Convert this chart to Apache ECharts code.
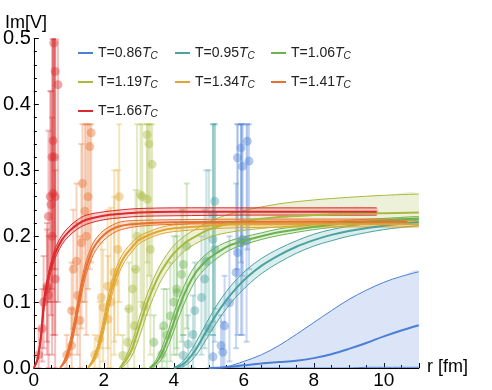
<!DOCTYPE html>
<html>
<head>
<meta charset="utf-8">
<script src="https://cdn.jsdelivr.net/npm/echarts@6/dist/echarts.min.js"></script>
<style>
  html, body { margin: 0; padding: 0; background: #fff; }
  #chart { width: 492px; height: 390px; }
</style>
</head>
<body>
<div id="chart"></div>
<script>
// Imaginary part of the heavy-quark potential, Im[V](r), at several temperatures.

const temperatures = ['0.86', '0.95', '1.06', '1.19', '1.34', '1.41', '1.66'];
const colors = ['#4a7fd6', '#4aa3a0', '#6cb24f', '#a9b93f', '#e2a52f', '#e8702f', '#dc2a2d'];

// Lattice points: [r (fm), Im V, lower end of error bar, upper end of error bar]
const points086 = [
  [5.12, 0.017, 0.0, 0.05], [5.35, 0.034, 0.0, 0.08], [5.40, 0.024, 0.0, 0.07],
  [5.45, 0.064, 0.0, 0.14], [5.59, 0.099, 0.01, 0.20], [5.78, 0.145, 0.03, 0.28],
  [5.82, 0.175, 0.05, 0.37], [5.92, 0.190, 0.05, 0.37], [5.96, 0.195, 0.05, 0.37],
  [5.82, 0.319, 0.15, 0.37], [5.92, 0.334, 0.16, 0.37], [5.96, 0.306, 0.14, 0.37],
  [6.10, 0.344, 0.18, 0.37], [6.15, 0.314, 0.15, 0.37], [6.08, 0.193, 0.04, 0.37]
];
const points095 = [
  [4.27, 0.019, 0.0, 0.05], [4.41, 0.036, 0.0, 0.08], [4.55, 0.051, 0.0, 0.11],
  [4.60, 0.087, 0.02, 0.16], [4.79, 0.107, 0.02, 0.20], [4.88, 0.135, 0.03, 0.24],
  [4.93, 0.162, 0.05, 0.30], [5.12, 0.195, 0.05, 0.37], [5.12, 0.233, 0.07, 0.37],
  [5.17, 0.180, 0.04, 0.37], [5.17, 0.253, 0.09, 0.37], [5.00, 0.060, 0.0, 0.30]
];
const points106 = [
  [3.43, 0.039, 0.0, 0.08], [3.66, 0.021, 0.0, 0.06], [3.71, 0.064, 0.01, 0.12],
  [3.80, 0.050, 0.0, 0.12], [3.90, 0.079, 0.01, 0.16], [4.00, 0.100, 0.02, 0.20],
  [4.08, 0.120, 0.03, 0.22], [4.09, 0.114, 0.02, 0.20], [4.22, 0.142, 0.04, 0.24],
  [4.27, 0.157, 0.05, 0.24], [4.37, 0.185, 0.06, 0.28]
];
const points119 = [
  [2.54, 0.019, 0.0, 0.05], [2.68, 0.039, 0.0, 0.09], [2.72, 0.090, 0.02, 0.16],
  [2.82, 0.120, 0.03, 0.22], [2.87, 0.064, 0.0, 0.15], [2.91, 0.150, 0.04, 0.27],
  [2.95, 0.200, 0.06, 0.37], [3.05, 0.263, 0.10, 0.37], [3.10, 0.260, 0.08, 0.37],
  [3.15, 0.094, 0.0, 0.22], [3.24, 0.256, 0.08, 0.37], [3.24, 0.354, 0.16, 0.37],
  [3.29, 0.340, 0.14, 0.37], [3.33, 0.180, 0.02, 0.37], [3.38, 0.309, 0.12, 0.37]
];
const points134 = [
  [1.74, 0.020, 0.0, 0.05], [1.88, 0.044, 0.0, 0.10], [1.93, 0.107, 0.03, 0.19],
  [1.98, 0.092, 0.01, 0.18], [2.11, 0.124, 0.03, 0.24], [2.12, 0.074, 0.0, 0.17],
  [2.20, 0.100, 0.0, 0.243], [2.30, 0.130, 0.02, 0.26], [2.30, 0.145, 0.04, 0.30],
  [2.40, 0.180, 0.05, 0.30], [2.44, 0.260, 0.10, 0.37]
];
const points141 = [
  [0.94, 0.020, 0.0, 0.05], [1.08, 0.034, 0.0, 0.09], [1.08, 0.087, 0.02, 0.16],
  [1.13, 0.150, 0.06, 0.24], [1.22, 0.162, 0.05, 0.28], [1.25, 0.110, 0.02, 0.22],
  [1.32, 0.072, 0.0, 0.20], [1.36, 0.190, 0.06, 0.34], [1.39, 0.280, 0.10, 0.37],
  [1.46, 0.238, 0.10, 0.37], [1.50, 0.200, 0.05, 0.37], [1.55, 0.260, 0.12, 0.37],
  [1.60, 0.336, 0.15, 0.37], [1.64, 0.357, 0.16, 0.37]
];
const points166 = [
  [0.14, 0.020, 0.0, 0.06], [0.24, 0.060, 0.01, 0.12], [0.28, 0.100, 0.03, 0.17],
  [0.38, 0.120, 0.02, 0.22], [0.38, 0.124, 0.04, 0.21], [0.42, 0.110, 0.0, 0.20],
  [0.42, 0.230, 0.10, 0.36], [0.47, 0.260, 0.10, 0.42], [0.49, 0.248, 0.08, 0.42],
  [0.52, 0.200, 0.02, 0.38], [0.52, 0.320, 0.12, 0.50], [0.55, 0.345, 0.15, 0.50],
  [0.55, 0.265, 0.05, 0.50], [0.57, 0.493, 0.20, 0.60], [0.59, 0.320, 0.10, 0.55],
  [0.61, 0.450, 0.15, 0.60], [0.61, 0.260, 0.05, 0.50], [0.61, 0.135, 0.0, 0.30],
  [0.69, 0.430, 0.10, 0.60]
];

// Fitted curves: r grid, central value, lower and upper edge of the uncertainty band
const r086 = [5.0, 5.5, 6.0, 6.5, 7.0, 7.5, 8.0, 8.5, 9.0, 9.5, 10.0, 10.5, 11.0];
const mid086 = [0, 0.001, 0.004, 0.007, 0.009, 0.011, 0.015, 0.021, 0.029, 0.038, 0.048, 0.057, 0.065];
const lo086 = [0, 0, 0, 0, 0, 0, 0, 0, 0, 0.001, 0.001, 0.001, 0.001];
const hi086 = [0, 0.002, 0.010, 0.020, 0.034, 0.051, 0.069, 0.087, 0.104, 0.118, 0.130, 0.139, 0.146];

const r095 = [4.0, 4.3, 4.6, 4.9, 5.2, 5.5, 5.8, 6.1, 6.5, 7.0, 7.5, 8.0, 8.5, 9.0, 10.0, 11.0];
const mid095 = [0, 0.007, 0.026, 0.053, 0.080, 0.103, 0.122, 0.138, 0.155, 0.171, 0.184, 0.194, 0.202, 0.208, 0.216, 0.221];
const lo095 = [0, 0.003, 0.017, 0.041, 0.067, 0.090, 0.109, 0.125, 0.143, 0.160, 0.174, 0.185, 0.193, 0.200, 0.210, 0.216];
const hi095 = [0, 0.012, 0.036, 0.065, 0.093, 0.116, 0.135, 0.150, 0.166, 0.181, 0.193, 0.203, 0.210, 0.215, 0.222, 0.226];

const r106 = [3.3, 3.5, 3.7, 3.9, 4.1, 4.3, 4.5, 4.7, 5.0, 5.3, 5.6, 6.0, 6.5, 7.0, 8.0, 9.0, 10.0, 11.0];
const mid106 = [0, 0.008, 0.027, 0.054, 0.085, 0.112, 0.134, 0.150, 0.166, 0.177, 0.186, 0.193, 0.200, 0.206, 0.214, 0.220, 0.224, 0.227];
const lo106 = [0, 0.004, 0.018, 0.042, 0.071, 0.098, 0.121, 0.139, 0.156, 0.169, 0.179, 0.187, 0.195, 0.201, 0.210, 0.216, 0.221, 0.224];
const hi106 = [0, 0.013, 0.036, 0.066, 0.098, 0.125, 0.146, 0.161, 0.176, 0.186, 0.193, 0.199, 0.205, 0.211, 0.218, 0.224, 0.227, 0.230];

const r119 = [2.45, 2.6, 2.8, 3.0, 3.2, 3.4, 3.6, 3.8, 4.0, 4.3, 4.6, 5.0, 5.5, 6.0, 7.0, 8.0, 9.0, 10.0, 11.0];
const mid119 = [0, 0.009, 0.028, 0.060, 0.093, 0.120, 0.143, 0.160, 0.174, 0.189, 0.199, 0.210, 0.218, 0.223, 0.229, 0.232, 0.234, 0.235, 0.236];
const lo119 = [0, 0.004, 0.018, 0.045, 0.077, 0.105, 0.129, 0.147, 0.161, 0.177, 0.188, 0.198, 0.205, 0.209, 0.214, 0.217, 0.219, 0.220, 0.221];
const hi119 = [0, 0.014, 0.038, 0.073, 0.106, 0.133, 0.155, 0.172, 0.186, 0.200, 0.210, 0.222, 0.232, 0.239, 0.249, 0.255, 0.259, 0.262, 0.264];

const r134 = [1.55, 1.7, 1.8, 1.9, 2.0, 2.1, 2.2, 2.3, 2.45, 2.6, 2.8, 3.0, 3.3, 3.6, 4.0, 5.0, 6.0, 8.0, 11.0];
const mid134 = [0, 0.012, 0.025, 0.043, 0.066, 0.092, 0.114, 0.134, 0.155, 0.170, 0.183, 0.194, 0.202, 0.208, 0.212, 0.216, 0.218, 0.218, 0.218];
const lo134 = [0, 0.008, 0.019, 0.035, 0.056, 0.081, 0.103, 0.124, 0.146, 0.162, 0.176, 0.188, 0.197, 0.203, 0.207, 0.211, 0.213, 0.214, 0.214];
const hi134 = [0, 0.016, 0.031, 0.051, 0.076, 0.103, 0.125, 0.144, 0.164, 0.178, 0.190, 0.200, 0.207, 0.213, 0.217, 0.221, 0.222, 0.223, 0.223];

const r141 = [0.75, 0.9, 1.0, 1.1, 1.2, 1.3, 1.4, 1.5, 1.65, 1.8, 2.0, 2.25, 2.5, 3.0, 4.0, 6.0, 8.0, 10.66];
const mid141 = [0, 0.012, 0.027, 0.048, 0.075, 0.104, 0.132, 0.153, 0.176, 0.190, 0.202, 0.211, 0.216, 0.219, 0.221, 0.222, 0.222, 0.222];
const lo141 = [0, 0.008, 0.020, 0.040, 0.066, 0.094, 0.121, 0.143, 0.166, 0.181, 0.194, 0.204, 0.210, 0.215, 0.218, 0.219, 0.219, 0.219];
const hi141 = [0, 0.016, 0.034, 0.057, 0.085, 0.114, 0.142, 0.163, 0.185, 0.198, 0.209, 0.217, 0.222, 0.224, 0.225, 0.226, 0.226, 0.226];

const r166 = [0, 0.1, 0.2, 0.3, 0.4, 0.5, 0.6, 0.8, 1.0, 1.25, 1.5, 2.0, 2.5, 3.0, 4.0, 6.0, 8.0, 9.8];
const mid166 = [0, 0.012, 0.045, 0.105, 0.135, 0.157, 0.173, 0.194, 0.207, 0.218, 0.225, 0.231, 0.234, 0.236, 0.237, 0.237, 0.237, 0.237];
const lo166 = [0, 0.010, 0.042, 0.092, 0.124, 0.148, 0.165, 0.187, 0.200, 0.211, 0.218, 0.225, 0.228, 0.230, 0.231, 0.232, 0.232, 0.232];
const hi166 = [0, 0.014, 0.052, 0.106, 0.138, 0.162, 0.180, 0.201, 0.214, 0.225, 0.232, 0.237, 0.240, 0.242, 0.243, 0.243, 0.243, 0.243];

const FONT = '"Liberation Sans", Arial, Helvetica, sans-serif';

const sets = [
  { t: temperatures[0], color: colors[0], pts: points086, r: r086, mid: mid086, lo: lo086, hi: hi086 },
  { t: temperatures[1], color: colors[1], pts: points095, r: r095, mid: mid095, lo: lo095, hi: hi095 },
  { t: temperatures[2], color: colors[2], pts: points106, r: r106, mid: mid106, lo: lo106, hi: hi106 },
  { t: temperatures[3], color: colors[3], pts: points119, r: r119, mid: mid119, lo: lo119, hi: hi119 },
  { t: temperatures[4], color: colors[4], pts: points134, r: r134, mid: mid134, lo: lo134, hi: hi134 },
  { t: temperatures[5], color: colors[5], pts: points141, r: r141, mid: mid141, lo: lo141, hi: hi141 },
  { t: temperatures[6], color: colors[6], pts: points166, r: r166, mid: mid166, lo: lo166, hi: hi166 }
];

// Error-bar glyph: vertical bar with caps and a filled dot, all pale and translucent
function errorBar(color) {
  return function (params, api) {
    const c = api.coord([api.value(0), api.value(1)]);
    const a = api.coord([api.value(0), api.value(2)]);
    const b = api.coord([api.value(0), api.value(3)]);
    const st = { stroke: color, lineWidth: 2, opacity: 0.3 };
    return {
      type: 'group',
      children: [
        { type: 'line', shape: { x1: c[0], y1: a[1], x2: c[0], y2: b[1] }, style: st },
        { type: 'line', shape: { x1: c[0] - 3, y1: a[1], x2: c[0] + 3, y2: a[1] }, style: st },
        { type: 'line', shape: { x1: c[0] - 3, y1: b[1], x2: c[0] + 3, y2: b[1] }, style: st },
        { type: 'circle', shape: { cx: c[0], cy: c[1], r: 4.5 }, style: { fill: color, opacity: 0.42 } }
      ]
    };
  };
}

// Uncertainty band: translucent fill between the lower and upper curve, thin edges
function band(s) {
  return function (params, api) {
    if (params.dataIndex !== 0) return null;
    const lower = s.r.map((r, i) => api.coord([r, s.lo[i]]));
    const upper = s.r.map((r, i) => api.coord([r, s.hi[i]]));
    const outline = lower.concat(upper.slice().reverse());
    return {
      type: 'group',
      children: [
        { type: 'polygon', shape: { points: outline, smooth: 0.35 }, style: { fill: s.color, opacity: 0.2 } },
        { type: 'polyline', shape: { points: lower, smooth: 0.35 }, style: { stroke: s.color, lineWidth: 1, fill: null } },
        { type: 'polyline', shape: { points: upper, smooth: 0.35 }, style: { stroke: s.color, lineWidth: 1, fill: null } }
      ]
    };
  };
}

const seriesName = t => 'T=' + t + 'Tc';
const series = [];

sets.forEach(s => {
  series.push({
    type: 'custom', name: 'pts' + s.t, data: s.pts,
    renderItem: errorBar(s.color), clip: true, silent: true, z: 1
  });
});

sets.forEach(s => {
  series.push({
    type: 'custom', name: 'band' + s.t,
    data: s.r.map((r, i) => [r, s.lo[i], s.hi[i]]),
    encode: { x: 0, y: [1, 2] },
    renderItem: band(s), clip: true, silent: true, z: 2
  });
});

sets.forEach(s => {
  series.push({
    type: 'line', name: seriesName(s.t), smooth: 0.35, symbol: 'none', silent: true,
    data: s.r.map((r, i) => [r, s.mid[i]]),
    lineStyle: { width: 2, color: s.color },
    itemStyle: { color: s.color },
    z: 3
  });
});

// Legend: three columns, one legend block per entry
const legendCols = [73, 170, 266];
const legendRows = [50, 79, 108];
const legends = sets.map((s, i) => ({
  data: [seriesName(s.t)],
  left: legendCols[i % 3],
  top: legendRows[Math.floor(i / 3)] - 9,
  icon: 'rect',
  itemWidth: 15,
  itemHeight: 2,
  itemGap: 0,
  selectedMode: false,
  formatter: () => 'T=' + s.t + '{i|T}{s|C}',
  textStyle: {
    fontFamily: FONT, fontSize: 14, color: '#222',
    rich: {
      i: { fontFamily: FONT, fontSize: 14, fontStyle: 'italic', color: '#222' },
      s: { fontFamily: FONT, fontSize: 10, fontStyle: 'italic', color: '#222', padding: [7, 0, 0, 0] }
    }
  }
}));

const chart = echarts.init(document.getElementById('chart'), null, { renderer: 'canvas' });
chart.setOption({
  animation: false,
  backgroundColor: '#fff',
  grid: { left: 28.3, right: 73.2, top: 38.5, bottom: 21, containLabel: false },
  legend: legends,
  xAxis: {
    type: 'value', min: 0, max: 11, interval: 2,
    axisLine: { show: true, lineStyle: { color: '#000', width: 1 } },
    axisTick: { show: true, inside: true, length: 5, lineStyle: { color: '#000' } },
    minorTick: { show: true, splitNumber: 4, length: 3, lineStyle: { color: '#000' } },
    splitLine: { show: false },
    axisLabel: { showMaxLabel: false, margin: 3, fontFamily: FONT, fontSize: 19, color: '#000' }
  },
  yAxis: {
    type: 'value', min: 0, max: 0.5, interval: 0.1,
    axisLine: { show: true, lineStyle: { color: '#000', width: 1 } },
    axisTick: { show: true, inside: true, length: 5, lineStyle: { color: '#000' } },
    minorTick: { show: true, splitNumber: 5, length: 3, lineStyle: { color: '#000' } },
    splitLine: { show: false },
    axisLabel: { margin: 3, fontFamily: FONT, fontSize: 20, color: '#000', formatter: v => v.toFixed(1) }
  },
  graphic: [
    { type: 'text', left: 5, top: 14, style: { text: 'Im[V]', fontFamily: FONT, fontSize: 18, fill: '#000' } },
    { type: 'text', left: 427, top: 358, style: { text: 'r [fm]', fontFamily: FONT, fontSize: 18, fill: '#000' } }
  ],
  series: series
});
</script>
</body>
</html>
